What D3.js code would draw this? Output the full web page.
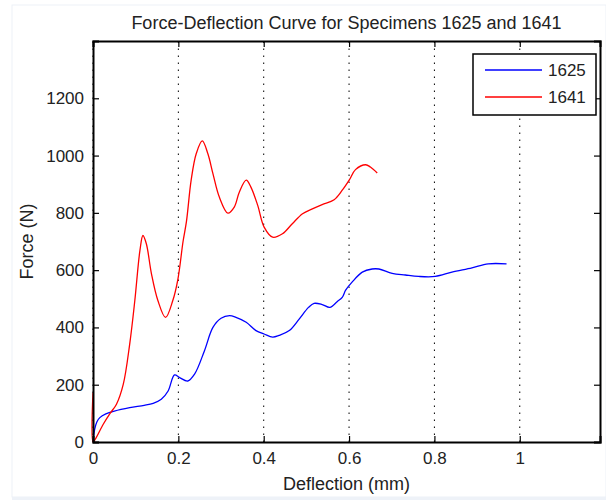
<!DOCTYPE html>
<html>
<head>
<meta charset="utf-8">
<script src="https://cdn.jsdelivr.net/npm/d3@7"></script>
<style>
    body { margin: 0; background: #ffffff; }
    text { font-family: "Liberation Sans", Arial, sans-serif; fill: #222222; }
</style>
</head>
<body>
<div id="chart"></div>
<script>
const seriesNames = ["1625", "1641"];

const deflection1625 = [0, 0.004, 0.009, 0.016, 0.03, 0.05, 0.086, 0.12, 0.141, 0.16, 0.176, 0.191, 0.203, 0.222, 0.238,
    0.261, 0.281, 0.3, 0.32, 0.335, 0.359, 0.382, 0.401, 0.421, 0.436, 0.46, 0.483, 0.505, 0.518, 0.537, 0.555,
    0.572, 0.584, 0.592, 0.607, 0.631, 0.654, 0.67, 0.701, 0.732, 0.763, 0.802, 0.841, 0.888, 0.926, 0.969];
const force1625 = [0, 45, 70, 85, 98, 108, 120, 128, 135, 149, 178, 234, 225, 213, 237,
    318, 400, 432, 441, 435, 418, 389, 377, 366, 372, 389, 429, 470, 484, 480, 470,
    490, 505, 530, 558, 593, 604, 604, 589, 583, 578, 578, 593, 608, 622, 622];

const deflection1641 = [0, 0, 0.005, 0.024, 0.04, 0.055, 0.071, 0.086, 0.098, 0.11, 0.117, 0.125, 0.137, 0.152, 0.17,
    0.187, 0.199, 0.211, 0.219, 0.23, 0.242, 0.256, 0.269, 0.281, 0.296, 0.316, 0.331, 0.343, 0.359, 0.37,
    0.386, 0.401, 0.421, 0.444, 0.467, 0.491, 0.514, 0.537, 0.565, 0.584, 0.601, 0.615, 0.639, 0.65, 0.666];
const force1641 = [172, 0, 9, 62, 100, 132, 202, 342, 494, 669, 721, 692, 587, 494, 435,
    494, 569, 700, 770, 914, 1007, 1051, 1007, 937, 855, 799, 820, 873, 914, 890,
    826, 750, 715, 727, 762, 797, 814, 829, 846, 879, 916, 951, 968, 960, 939];

const xTicks = [0, 0.2, 0.4, 0.6, 0.8, 1];
const yTicks = [0, 200, 400, 600, 800, 1000, 1200];
const xMax = 1.188;
const yMax = 1400;

function drawChart() {
    const width = 606, height = 500;
    const margin = {left: 93, right: 4, top: 41, bottom: 58};
    const colors = ["#0000ff", "#ff0000"];

    let svg = d3.select("#chart")
        .append("svg")
        .attr("width", width)
        .attr("height", height);

    // faint page frame
    svg.append("rect")
        .attr("x", 12).attr("y", 5)
        .attr("width", width - 12).attr("height", 492)
        .attr("fill", "none")
        .attr("stroke", "#edf1f7");
    svg.append("rect")
        .attr("x", 12).attr("y", 497)
        .attr("width", width - 12).attr("height", 3)
        .attr("fill", "#eef2f8");

    let x = d3.scaleLinear()
        .domain([0, xMax])
        .range([margin.left, width - margin.right - 2]);
    let y = d3.scaleLinear()
        .domain([0, yMax])
        .range([height - margin.bottom, margin.top]);

    let plot = svg.append("g");

    // dotted vertical grid
    plot.append("g")
        .selectAll("line")
        .data(xTicks)
        .join("line")
        .attr("x1", (d) => x(d))
        .attr("x2", (d) => x(d))
        .attr("y1", y(0))
        .attr("y2", y(yMax))
        .attr("stroke", "#000")
        .attr("stroke-width", 1)
        .attr("stroke-dasharray", "1.5,5.5");

    let line = d3.line()
        .curve(d3.curveCatmullRom.alpha(0.5))
        .x((d) => x(d[0]))
        .y((d) => y(d[1]));

    let series = [
        d3.zip(deflection1625, force1625),
        d3.zip(deflection1641, force1641)
    ];

    plot.append("g")
        .selectAll("path")
        .data(series)
        .join("path")
        .attr("d", line)
        .attr("fill", "none")
        .attr("stroke", (d, i) => colors[i])
        .attr("stroke-width", 1.3);

    // axes with inward ticks on all four sides
    let fontTick = "17px";
    let bottom = svg.append("g")
        .attr("transform", "translate(0," + y(0) + ")")
        .call(d3.axisBottom(x).tickValues(xTicks).tickFormat(d3.format("")).tickSize(-6).tickPadding(10));
    let left = svg.append("g")
        .attr("transform", "translate(" + x(0) + ",0)")
        .call(d3.axisLeft(y).tickValues(yTicks).tickFormat(d3.format("")).tickSize(-6).tickPadding(9));
    let top = svg.append("g")
        .attr("transform", "translate(0," + y(yMax) + ")")
        .call(d3.axisTop(x).tickValues(xTicks).tickFormat("").tickSize(-6));
    let right = svg.append("g")
        .attr("transform", "translate(" + x(xMax) + ",0)")
        .call(d3.axisRight(y).tickValues(yTicks).tickFormat("").tickSize(-6));

    [bottom, left, top, right].forEach(function (g) {
        g.select(".domain").attr("stroke", "#000").attr("stroke-width", 2);
        g.selectAll(".tick line").attr("stroke", "#000").attr("stroke-width", 1.2);
        g.selectAll(".tick text")
            .style("font-family", "'Liberation Sans', Arial, sans-serif")
            .style("font-size", fontTick)
            .attr("fill", "#222");
    });

    svg.append("text")
        .attr("x", (x(0) + x(xMax)) / 2)
        .attr("y", 29)
        .attr("text-anchor", "middle")
        .style("font-size", "18px")
        .text("Force-Deflection Curve for Specimens 1625 and 1641");

    svg.append("text")
        .attr("x", (x(0) + x(xMax)) / 2)
        .attr("y", 490)
        .attr("text-anchor", "middle")
        .style("font-size", "18px")
        .text("Deflection (mm)");

    svg.append("text")
        .attr("transform", "translate(33," + (y(0) + y(yMax)) / 2 + ") rotate(-90)")
        .attr("text-anchor", "middle")
        .style("font-size", "18px")
        .text("Force (N)");

    // legend
    let legend = svg.append("g");
    legend.append("rect")
        .attr("x", 473).attr("y", 54)
        .attr("width", 123).attr("height", 61)
        .attr("fill", "#fff")
        .attr("stroke", "#000")
        .attr("stroke-width", 1.5);

    let items = legend.selectAll("g")
        .data(seriesNames)
        .join("g")
        .attr("transform", (d, i) => "translate(0," + (70 + i * 27) + ")");
    items.append("line")
        .attr("x1", 485).attr("x2", 542)
        .attr("stroke", (d, i) => colors[i])
        .attr("stroke-width", 1.3);
    items.append("text")
        .attr("x", 548)
        .attr("dy", "0.35em")
        .style("font-size", "17px")
        .text((d) => d);
}
drawChart();
</script>
</body>
</html>
